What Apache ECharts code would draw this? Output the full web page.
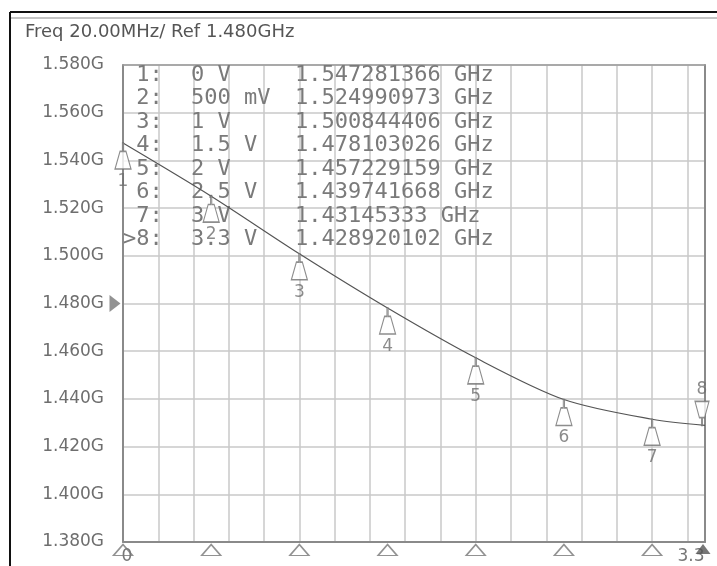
<!DOCTYPE html>
<html><head><meta charset="utf-8">
<script src="https://cdn.jsdelivr.net/npm/echarts@6/dist/echarts.min.js"></script>
<style>html,body{margin:0;padding:0;background:#fff}#c{width:717px;height:566px}</style>
</head><body><div id="c"></div>
<script>
// ---- data ----
const titleText = 'Freq 20.00MHz/ Ref 1.480GHz';
const markerIds = ['1', '2', '3', '4', '5', '6', '7', '8'];
const markerRowLabels = [' 1:', ' 2:', ' 3:', ' 4:', ' 5:', ' 6:', ' 7:', '>8:'];
const markerVolts = [0, 0.5, 1, 1.5, 2, 2.5, 3, 3.3];
const markerVoltText = ['0 V', '500 mV', '1 V', '1.5 V', '2 V', '2.5 V', '3 V', '3.3 V'];
const markerFreqs = [1.547281366, 1.524990973, 1.500844406, 1.478103026, 1.457229159, 1.439741668, 1.43145333, 1.428920102];
const markerFreqText = ['1.547281366 GHz', '1.524990973 GHz', '1.500844406 GHz', '1.478103026 GHz', '1.457229159 GHz', '1.439741668 GHz', '1.43145333 GHz', '1.428920102 GHz'];
const stimulusTicks = [0, 0.5, 1, 1.5, 2, 2.5, 3];
const stimulusEnd = 3.3;
const refLevel = 1.480;
const xMin = 0, xMax = 3.3, xStep = 0.2;
const yMin = 1.38, yMax = 1.58, yStep = 0.02;
const xTickLabels = ['0', '3.3'];

// ---- chart ----
const chart = echarts.init(document.getElementById('c'), null, {renderer: 'canvas'});
const gray = '#6e6e6e';
const markerPath = 'path://M7.4,0 L8.6,0 L8.6,8 L11,8 L16,25 L0,25 L5,8 L7.4,8 Z';
const markerPathInv = 'path://M0,0 L16,0 L11,17 L8.6,17 L8.6,25 L7.4,25 L7.4,17 L5,17 Z';

const tableGraphics = [];
const rowY0 = 75, rowStep = 23.47;
markerRowLabels.forEach((lab, i) => {
  const y = rowY0 + i * rowStep;
  const st = {fontFamily: 'DejaVu Sans Mono', fontSize: 22, fill: '#7a7a7a', verticalAlign: 'middle'};
  tableGraphics.push({type: 'text', x: 123, y: y, style: Object.assign({text: lab}, st), z: 1});
  tableGraphics.push({type: 'text', x: 191, y: y, style: Object.assign({text: markerVoltText[i]}, st), z: 1});
  tableGraphics.push({type: 'text', x: 295, y: y, style: Object.assign({text: markerFreqText[i]}, st), z: 1});
});

const option = {
  animation: false,
  backgroundColor: '#fff',
  title: {
    text: titleText, left: 25, top: 23, padding: 0,
    textStyle: {fontFamily: 'DejaVu Sans', fontSize: 18, fontWeight: 'normal', color: '#555'}
  },
  grid: {left: 123, right: 12, top: 65, bottom: 24},
  graphic: [
    {type: 'line', shape: {x1: 10, y1: 12, x2: 717, y2: 12}, style: {stroke: '#111', lineWidth: 2}},
    {type: 'line', shape: {x1: 10, y1: 18, x2: 717, y2: 18}, style: {stroke: '#c4c4c4', lineWidth: 2}},
    {type: 'line', shape: {x1: 10, y1: 12, x2: 10, y2: 566}, style: {stroke: '#111', lineWidth: 2}}
  ].concat(tableGraphics),
  xAxis: [{
    type: 'value', min: xMin, max: xMax, interval: xStep,
    axisLine: {show: true, onZero: false, lineStyle: {color: '#8a8a8a', width: 2}},
    axisTick: {show: false},
    splitLine: {show: true, lineStyle: {color: '#c8c8c8', width: 1.5}},
    axisLabel: {
      show: true, showMinLabel: true, showMaxLabel: true, margin: 6,
      formatter: v => Math.abs(v - 0) < 1e-6 ? '{l|' + xTickLabels[0] + '}' : (Math.abs(v - 3.3) < 1e-6 ? '{r|' + xTickLabels[1] + '}' : ''),
      rich: {
        l: {fontFamily: 'DejaVu Sans', fontSize: 17, color: '#777', padding: [0, 0, 0, 8]},
        r: {fontFamily: 'DejaVu Sans', fontSize: 17, color: '#777', padding: [0, 28, 0, 0]}
      }
    }
  }, {
    type: 'value', min: xMin, max: xMax, position: 'top',
    axisLine: {show: true, onZero: false, lineStyle: {color: '#9a9a9a', width: 1.5}},
    axisTick: {show: false}, axisLabel: {show: false}, splitLine: {show: false}
  }],
  yAxis: [{
    type: 'value', min: yMin, max: yMax, interval: yStep,
    axisLine: {show: true, onZero: false, lineStyle: {color: '#8a8a8a', width: 2}},
    axisTick: {show: false},
    splitLine: {show: true, lineStyle: {color: '#c8c8c8', width: 1.5}},
    axisLabel: {
      margin: 19, fontFamily: 'DejaVu Sans', fontSize: 17, color: gray,
      formatter: v => v.toFixed(3) + 'G'
    }
  }, {
    type: 'value', min: yMin, max: yMax, position: 'right',
    axisLine: {show: true, onZero: false, lineStyle: {color: '#8a8a8a', width: 2}},
    axisTick: {show: false}, axisLabel: {show: false}, splitLine: {show: false}
  }],
  series: [
    {
      type: 'line', name: 'trace', smooth: 0.3, showSymbol: false, symbol: 'none',
      data: markerVolts.map((v, i) => [v, markerFreqs[i]]),
      lineStyle: {color: '#555', width: 1.2}, z: 3
    },
    {
      type: 'scatter', name: 'markers', clip: false, z: 4,
      data: markerVolts.slice(0, 7).map((v, i) => ({value: [v, markerFreqs[i]], name: markerIds[i]})),
      symbol: markerPath, symbolSize: [16, 26], symbolOffset: [0, 13],
      itemStyle: {color: '#fff', borderColor: '#707070', borderWidth: 1.3},
      label: {show: true, position: 'bottom', distance: 3, formatter: p => p.name,
        fontFamily: 'DejaVu Sans', fontSize: 17, color: gray}
    },
    {
      type: 'scatter', name: 'marker8', clip: false, z: 4,
      data: [{value: [markerVolts[7], markerFreqs[7]], name: markerIds[7]}],
      symbol: markerPathInv, symbolSize: [14, 24], symbolOffset: [-3, -12],
      itemStyle: {color: '#fff', borderColor: '#707070', borderWidth: 1.3},
      label: {show: true, position: 'top', distance: 2, formatter: p => p.name,
        fontFamily: 'DejaVu Sans', fontSize: 17, color: gray}
    },
    {
      type: 'scatter', name: 'stimTicks', clip: false, z: 4,
      data: stimulusTicks.map(v => [v, yMin]),
      symbol: 'triangle', symbolSize: [19, 11], symbolOffset: [0, 8],
      itemStyle: {color: 'rgba(255,255,255,0)', borderColor: '#777', borderWidth: 1.5}
    },
    {
      type: 'scatter', name: 'stimEnd', clip: false, z: 5,
      data: [[stimulusEnd, yMin]],
      symbol: 'triangle', symbolSize: [15, 10], symbolOffset: [-2, 7],
      itemStyle: {color: '#555'}
    },
    {
      type: 'scatter', name: 'refLevel', clip: false, z: 5,
      data: [[xMin, refLevel]],
      symbol: 'triangle', symbolRotate: -90, symbolSize: [17, 11], symbolOffset: [-8, 0],
      itemStyle: {color: '#777'}
    }
  ]
};
chart.setOption(option);
</script>
</body></html>
